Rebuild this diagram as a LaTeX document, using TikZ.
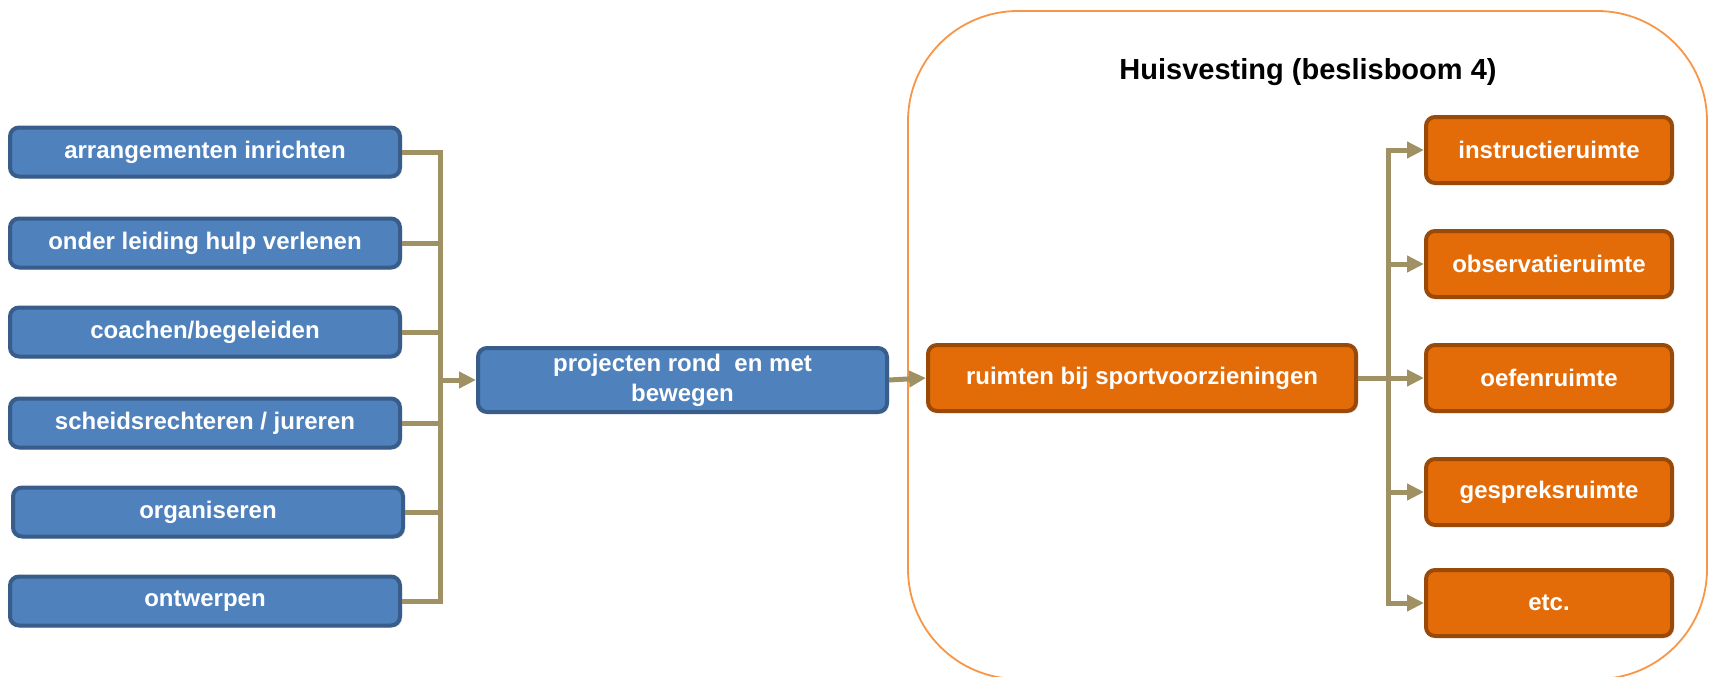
\documentclass[tikz,border=0pt]{standalone}
\usepackage{fontspec}
\setmainfont{Liberation Sans}
\usetikzlibrary{arrows.meta,shadows}
\definecolor{bluefill}{HTML}{4F81BD}
\definecolor{blueedge}{HTML}{385D8A}
\definecolor{orfill}{HTML}{E36C09}
\definecolor{oredge}{HTML}{9A4A08}
\definecolor{conncol}{HTML}{A09165}
\definecolor{contcol}{HTML}{F79646}
\tikzset{
  box/.style={rounded corners=9pt, line width=4pt, inner sep=0pt, align=center,
    text=white, font=\fontsize{24}{30}\selectfont\bfseries,
    drop shadow={opacity=0.25, shadow xshift=2pt, shadow yshift=-2pt}},
  bluebox/.style={box, fill=bluefill, draw=blueedge, minimum width=390pt, minimum height=49pt},
  midbox/.style={box, fill=bluefill, draw=blueedge, minimum width=409pt, minimum height=64pt},
  orbox/.style={box, fill=orfill, draw=oredge, minimum height=66pt},
  conn/.style={draw=conncol, line width=5pt},
  arr/.style={conn, -{Triangle[length=17pt,width=16pt]}},
}
\begin{document}
\begin{tikzpicture}[x=1pt,y=-1pt]
\useasboundingbox (0,0) rectangle (1710,677);
% container
\draw[contcol, line width=1.8pt, rounded corners=110pt] (908,11) rectangle (1707,679);
\node[font=\fontsize{29}{34}\selectfont\bfseries] (title) at (1308,72) {Huisvesting (beslisboom 4)};
% left boxes
\node[bluebox] (b1) at (205,152) {arrangementen inrichten};
\node[bluebox] (b2) at (205,243) {onder leiding hulp verlenen};
\node[bluebox] (b3) at (205,332) {coachen/begeleiden};
\node[bluebox] (b4) at (205,423) {scheidsrechteren / jureren};
\node[bluebox] (b5) at (208,512) {organiseren};
\node[bluebox] (b6) at (205,601) {ontwerpen};
\node[midbox] (mid) at (682.5,380) {projecten rond\ \ en met\\bewegen};
\node[orbox, minimum width=428pt] (main) at (1142,378) {ruimten bij sportvoorzieningen};
\node[orbox, minimum width=246pt] (r1) at (1549,150) {instructieruimte};
\node[orbox, minimum width=246pt] (r2) at (1549,264) {observatieruimte};
\node[orbox, minimum width=246pt] (r3) at (1549,378) {oefenruimte};
\node[orbox, minimum width=246pt] (r4) at (1549,492) {gespreksruimte};
\node[orbox, minimum width=246pt] (r5) at (1549,603) {etc.};
\coordinate (lbus) at (440,0);
\coordinate (rbus) at (1388,0);
% left connectors
\foreach \b in {b1,b2,b3,b4,b5,b6}{
  \draw[conn] (\b.east) -- (\b.east -| lbus);
}
\draw[conn, line cap=rect] (b1.east -| lbus) -- (b6.east -| lbus);
\draw[arr] (mid.west -| lbus) -- (mid.west);
\draw[arr] (mid.east) -- (main.west);
% right connectors
\draw[conn] (main.east) -- (main.east -| rbus);
\draw[conn, line cap=rect] (r1.west -| rbus) -- (r5.west -| rbus);
\foreach \r in {r1,r2,r3,r4,r5}{
  \draw[arr] (\r.west -| rbus) -- (\r.west);
}
\end{tikzpicture}
\end{document}
